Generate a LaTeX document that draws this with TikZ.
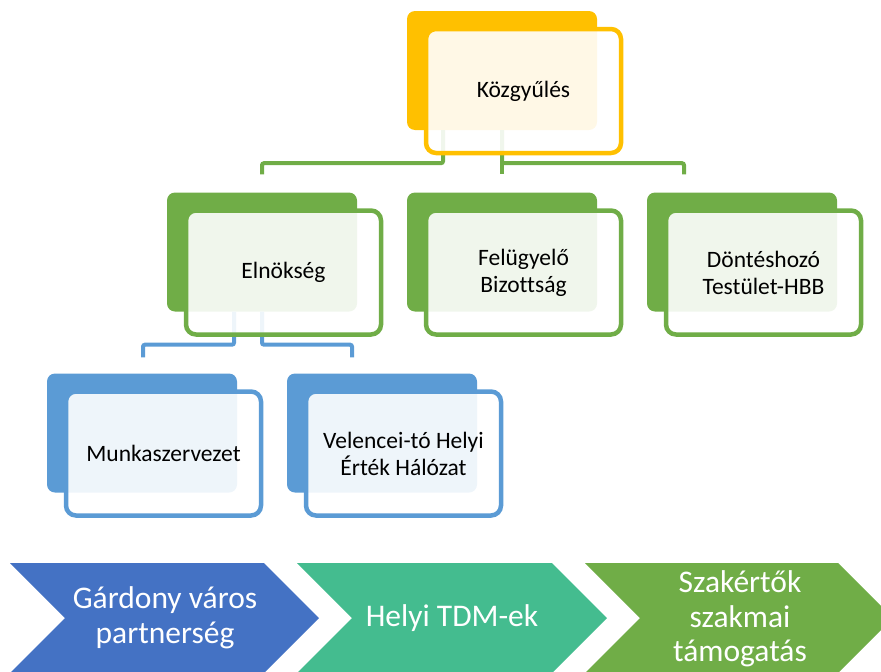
\documentclass[tikz,border=0pt]{standalone}
\usepackage{fontspec}
\setmainfont{Carlito}[Ligatures=CommonOff]
\usetikzlibrary{calc}
\definecolor{cOrange}{HTML}{FFC000}
\definecolor{cGreen}{HTML}{70AD47}
\definecolor{cBlue}{HTML}{5B9BD5}
\definecolor{cChevBlue}{HTML}{4472C4}
\definecolor{cTeal}{HTML}{44BC8F}
\begin{document}
\begin{tikzpicture}[x=1pt,y=-1pt,
  backbox/.style={fill=#1, rounded corners=8pt, inner sep=0pt, minimum width=190pt, minimum height=119pt},
  frontbox/.style={draw=#1, line width=4.5pt, fill=white, fill opacity=0.9, text opacity=1, rounded corners=10pt, inner sep=0pt, minimum width=195pt, minimum height=124pt, align=center, font=\fontsize{23.5}{27}\selectfont},
  link/.style={draw=#1, line width=4pt, rounded corners=2pt},
  chevtext/.style={text=white, align=center, font=\fontsize{31.5}{34.5}\selectfont, inner sep=0pt}]
\useasboundingbox (0,0) rectangle (881,672);
\clip (0,0) rectangle (881,672);
% back boxes
\node[backbox=cOrange] (kozb) at (502,70.5) {};
\node[backbox=cGreen] (elnb) at (262,252) {};
\node[backbox=cGreen] (felb) at (502,252) {};
\node[backbox=cGreen] (donb) at (742,252) {};
\node[backbox=cBlue] (munb) at (142,433) {};
\node[backbox=cBlue] (velb) at (382,433) {};
% connector ends
\coordinate (e1) at ($(elnb.north)+(0,-18)$);
\coordinate (f1) at ($(felb.north)+(0,-18)$);
\coordinate (d1) at ($(donb.north)+(-58,-18)$);
\coordinate (m1) at ($(munb.north)+(1,-16)$);
\coordinate (v1) at ($(velb.north)+(-30,-16)$);
% connectors
\draw[link=cGreen] ($(kozb.south)+(-59,0)$) -- ++(0,33) -| (e1);
\draw[link=cGreen] (kozb.south) -- (f1);
\draw[link=cGreen] (kozb.south) -- ++(0,33) -| (d1);
\draw[link=cBlue] ($(elnb.south)+(-28,0)$) -- ++(0,33) -| (m1);
\draw[link=cBlue] (elnb.south) -- ++(0,33) -| (v1);
% front boxes
\node[frontbox=cOrange] (kozf) at ($(kozb.center)+(21.5,20.5)$) {Közgyűlés};
\node[frontbox=cGreen] (elnf) at ($(elnb.center)+(21.5,20.5)$) {Elnökség};
\node[frontbox=cGreen] (felf) at ($(felb.center)+(21.5,20.5)$) {Felügyelő\\Bizottság};
\node[frontbox=cGreen] (donf) at ($(donb.center)+(21.5,20.5)$) {Döntéshozó\\Testület-HBB};
\node[frontbox=cBlue] (munf) at ($(munb.center)+(21.5,20.5)$) {Munkaszervezet};
\node[frontbox=cBlue] (velf) at ($(velb.center)+(21.5,20.5)$) {Velencei-tó Helyi\\Érték Hálózat};
% chevrons
\fill[cChevBlue] (10,563) -- (264,563) -- (319,618) -- (264,673) -- (10,673) -- (65,618) -- cycle;
\fill[cTeal] (297,563) -- (552,563) -- (607,618) -- (552,673) -- (297,673) -- (352,618) -- cycle;
\fill[cGreen] (585,563) -- (838,563) -- (893,618) -- (838,673) -- (585,673) -- (640,618) -- cycle;
\node[chevtext] (c1) at (165,618) {Gárdony város\\partnerség};
\node[chevtext] (c2) at (452,618) {Helyi TDM-ek};
\node[chevtext] (c3) at (740,619) {Szakértők\\szakmai\\támogatás};
\end{tikzpicture}
\end{document}
